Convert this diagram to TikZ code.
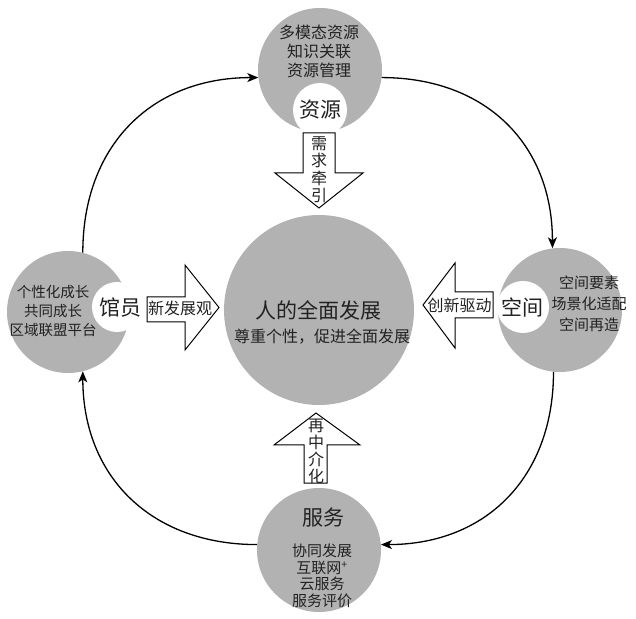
\documentclass[tikz,border=0pt]{standalone}
\usepackage{fontspec}
\setmainfont{Noto Sans CJK SC}
\usetikzlibrary{arrows.meta}
\definecolor{cgray}{HTML}{B2B2B2}
\definecolor{ink}{HTML}{222222}
\tikzset{
  bigc/.style={circle, fill=cgray, inner sep=0pt},
  whitec/.style={circle, fill=white, inner sep=0pt},
  txt/.style={text=ink, align=center, inner sep=0pt},
  conn/.style={line width=1.3pt, -{Stealth[length=11pt,width=9pt,inset=3pt]}, looseness=1.1},
  blockarrow/.style={draw=black, fill=white, line width=1pt, line join=miter},
}
\begin{document}
\begin{tikzpicture}[x=1pt,y=1pt]
\useasboundingbox (0,0) rectangle (636,618);
% circles
\node[bigc, minimum size=190pt] (C) at (319,308) {};
\node[bigc, minimum size=124pt] (T) at (320,548) {};
\node[bigc, minimum size=122pt] (L) at (68,306) {};
\node[bigc, minimum size=124pt] (R) at (560,308) {};
\node[bigc, minimum size=124pt] (B) at (319,68) {};
\node[whitec, minimum size=54pt] (Tw) at (320,508) {};
\node[whitec, minimum size=50pt] (Lw) at (117,311) {};
\node[whitec, minimum size=52pt] (Rw) at (523,311) {};
% connectors
\draw[conn] (L.76) to[out=90, in=180] (T.187);
\draw[conn] (T.353) to[out=0, in=90] (R.97);
\draw[conn] (R.264) to[out=-90, in=0] (B.5);
\draw[conn] (B.175) to[out=180, in=-90] (L.284);
% block arrows
\draw[blockarrow] (303,485) -- (335,485) -- (335,445) -- (363,445) -- (319,410) -- (275,445) -- (303,445) -- cycle;
\draw[blockarrow] (304,135) -- (327,135) -- (327,173) -- (360,173) -- (316,205) -- (274,173) -- (304,173) -- cycle;
\draw[blockarrow] (147,321) -- (185,321) -- (185,353) -- (219,310.5) -- (185,268) -- (185,296) -- (147,296) -- cycle;
\draw[blockarrow] (493,326) -- (455,326) -- (455,355) -- (423,313) -- (455,270) -- (455,300) -- (493,300) -- cycle;
% texts
\node[txt, font=\fontsize{16}{19}\selectfont] (Tt) at (319,567) {多模态资源\\知识关联\\资源管理};
\node[txt, font=\fontsize{21}{24}\selectfont] (Tl) at (Tw) {资源};
\node[txt, font=\fontsize{14.5}{19}\selectfont] (Lt) at (53,307) {个性化成长\\共同成长\\区域联盟平台};
\node[txt, font=\fontsize{21}{24}\selectfont] (Ll) at (120,310) {馆员};
\node[txt, font=\fontsize{15}{21}\selectfont] (Rt) at (589,314) {空间要素\\场景化适配\\空间再造};
\node[txt, font=\fontsize{21}{24}\selectfont] (Rl) at (522,311) {空间};
\node[txt, font=\fontsize{21}{24}\selectfont] (Bl) at (323,100) {服务};
\node[txt, font=\fontsize{15}{16.5}\selectfont] (Bt) at (322,42) {协同发展\\互联网\textsuperscript{+}\\云服务\\服务评价};
\node[txt, font=\fontsize{21}{24}\selectfont] (Ct) at (318,308) {人的全面发展};
\node[txt, font=\fontsize{16}{19}\selectfont] (Cs) at (322,281) {尊重个性，促进全面发展};
\node[txt, font=\fontsize{16}{17.5}\selectfont] (a1) at (319,448.5) {需\\求\\牵\\引};
\node[txt, font=\fontsize{16}{17}\selectfont] (a2) at (316,166.5) {再\\中\\介\\化};
\node[txt, font=\fontsize{16}{19}\selectfont] (a3) at (180,310) {新发展观};
\node[txt, font=\fontsize{16}{19}\selectfont] (a4) at (459.5,313) {创新驱动};
\end{tikzpicture}
\end{document}
